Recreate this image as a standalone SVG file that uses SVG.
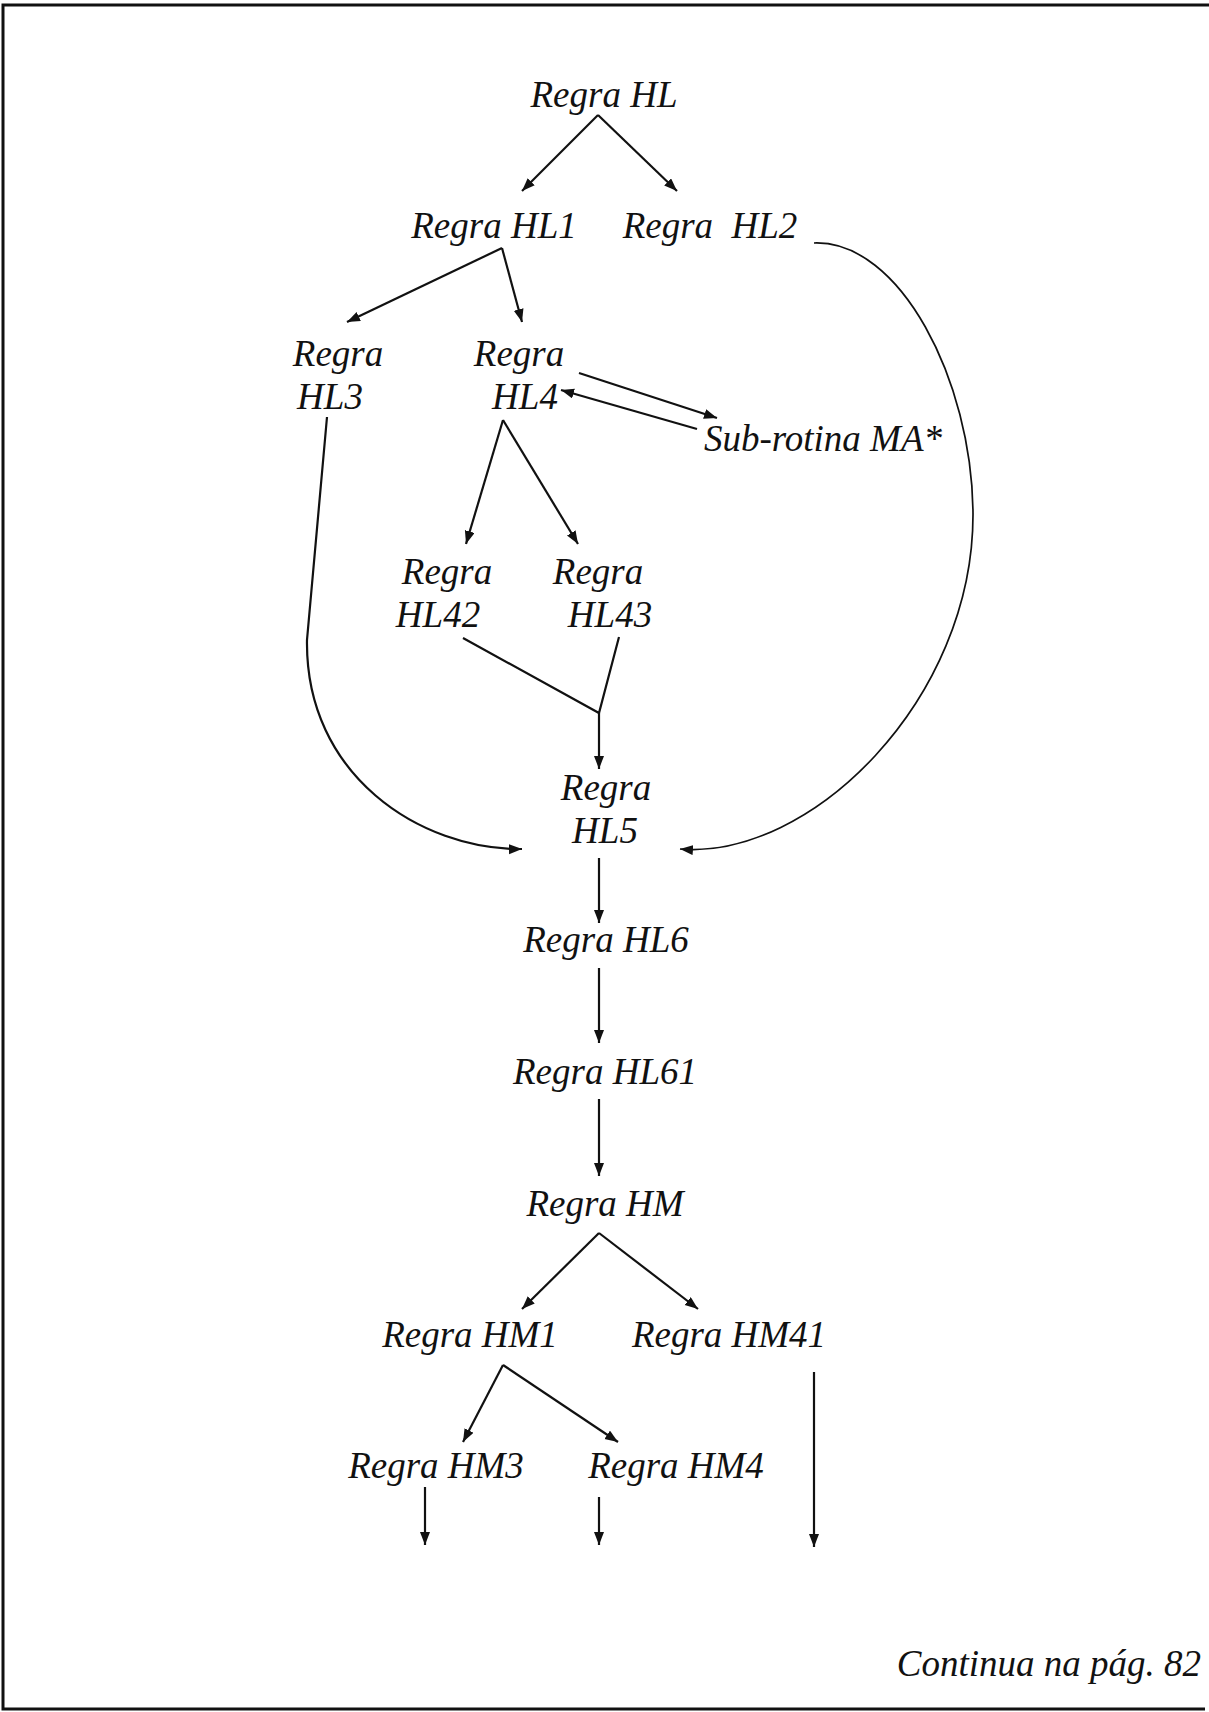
<svg xmlns="http://www.w3.org/2000/svg" width="1209" height="1712" viewBox="0 0 1209 1712">
<style>
text{font-family:"Liberation Serif","Times New Roman",serif;font-style:italic;font-size:37px;fill:#111;text-anchor:middle}
.c{fill:none;stroke:#111;stroke-width:2.2}
.thin{fill:none;stroke:#111;stroke-width:1.7}
.frame{fill:none;stroke:#111;stroke-width:3}
</style>
<defs>
<marker id="ah" markerUnits="userSpaceOnUse" markerWidth="15" markerHeight="11" refX="13" refY="5" orient="auto">
<path d="M0,0 L13,5 L0,10 z" fill="#111"/>
</marker>
</defs>
<rect width="1209" height="1712" fill="#fff"/>
<path class="frame" d="M1209,5 H3 V1709 H1205"/>
<g id="nodes">
<g id="n-hl"><text x="604" y="107">Regra HL</text></g>
<g id="n-hl1"><text x="494" y="238">Regra HL1</text></g>
<g id="n-hl2"><text x="710" y="238" xml:space="preserve">Regra  HL2</text></g>
<g id="n-hl3"><text x="338" y="366">Regra</text><text x="330" y="409">HL3</text></g>
<g id="n-hl4"><text x="519" y="366">Regra</text><text x="525" y="409">HL4</text></g>
<g id="n-ma"><text x="823" y="451">Sub-rotina MA*</text></g>
<g id="n-hl42"><text x="447" y="584">Regra</text><text x="438" y="627">HL42</text></g>
<g id="n-hl43"><text x="598" y="584">Regra</text><text x="610" y="627">HL43</text></g>
<g id="n-hl5"><text x="606" y="800">Regra</text><text x="605" y="843">HL5</text></g>
<g id="n-hl6"><text x="606" y="952">Regra HL6</text></g>
<g id="n-hl61"><text x="605" y="1084">Regra HL61</text></g>
<g id="n-hm"><text x="605" y="1216">Regra HM</text></g>
<g id="n-hm1"><text x="470" y="1347">Regra HM1</text></g>
<g id="n-hm41"><text x="729" y="1347">Regra HM41</text></g>
<g id="n-hm3"><text x="436" y="1478">Regra HM3</text></g>
<g id="n-hm4"><text x="676" y="1478">Regra HM4</text></g>
<g id="n-cont"><text x="1201" y="1676" style="text-anchor:end">Continua na pág. 82</text></g>
</g>
<g id="connectors">
<path class="c" d="M598,115 L522,191" marker-end="url(#ah)"/>
<path class="c" d="M598,115 L677,191" marker-end="url(#ah)"/>
<path class="c" d="M502,248 L347,322" marker-end="url(#ah)"/>
<path class="c" d="M502,248 L522,322" marker-end="url(#ah)"/>
<path class="c" d="M579,373 L717,418" marker-end="url(#ah)"/>
<path class="c" d="M697,429 L561,390" marker-end="url(#ah)"/>
<path class="c" d="M503,420 L466,544" marker-end="url(#ah)"/>
<path class="c" d="M503,420 L578,544" marker-end="url(#ah)"/>
<path class="c" d="M463,638 L599,713 L619,637"/>
<path class="c" d="M599,713 L599,769" marker-end="url(#ah)"/>
<path class="c" d="M327,417 L307,640 C305,775 420,850 522,849" marker-end="url(#ah)"/>
<path class="thin" d="M814,243 C900,240 972,380 973,513 C974,700 810,860 680,849" marker-end="url(#ah)"/>
<path class="c" d="M599,858 L599,923" marker-end="url(#ah)"/>
<path class="c" d="M599,968 L599,1043" marker-end="url(#ah)"/>
<path class="c" d="M599,1099 L599,1176" marker-end="url(#ah)"/>
<path class="c" d="M599,1233 L522,1309" marker-end="url(#ah)"/>
<path class="c" d="M599,1233 L698,1309" marker-end="url(#ah)"/>
<path class="c" d="M503,1365 L463,1442" marker-end="url(#ah)"/>
<path class="c" d="M503,1365 L618,1442" marker-end="url(#ah)"/>
<path class="c" d="M425,1487 L425,1545" marker-end="url(#ah)"/>
<path class="c" d="M599,1497 L599,1545" marker-end="url(#ah)"/>
<path class="c" d="M814,1372 L814,1547" marker-end="url(#ah)"/>
</g>
</svg>
